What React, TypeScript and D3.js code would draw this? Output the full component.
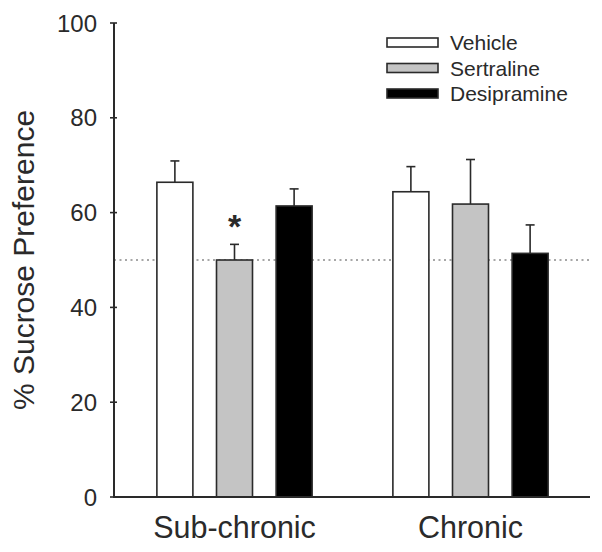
import React from "react";
import * as d3 from "d3";

const groups = ["Sub-chronic", "Chronic"];
const treatments = ["Vehicle", "Sertraline", "Desipramine"];
const means = [
  [66.4, 50.0, 61.4],
  [64.4, 61.8, 51.4],
];
const errors = [
  [4.5, 3.3, 3.6],
  [5.3, 9.4, 6.0],
];
const significant = [
  [false, true, false],
  [false, false, false],
];
const yTicks = [0, 20, 40, 60, 80, 100];
const referenceLine = 50;
const fills = ["#ffffff", "#c4c4c4", "#000000"];

const W = 602;
const H = 552;
const FONT = "'Liberation Sans', Arial, sans-serif";
const INK = "#2a2a2a";

export default function App() {
  const x0 = d3.scaleBand<string>().domain(groups).range([116.5, 588.5]).paddingInner(0).paddingOuter(0);
  const y = d3.scaleLinear().domain([0, 100]).range([497, 23]);
  const barW = 36;
  const inner = d3
    .scaleBand<string>()
    .domain(treatments)
    .range([0, 155])
    .paddingInner(0.4)
    .paddingOuter(0);

  return (
    <svg width={W} height={H} style={{ display: "block", position: "absolute", left: 0, top: 0 }}>
      <rect width={W} height={H} fill="#fff" />
      {/* reference line */}
      <line
        x1={114}
        x2={590}
        y1={y(referenceLine)}
        y2={y(referenceLine)}
        stroke="#8a8a8a"
        strokeWidth={1.5}
        strokeDasharray="2,3.5"
      />
      {groups.map((g, gi) => {
        const gc = (x0(g) as number) + x0.bandwidth() / 2;
        const start = gc - 155 / 2;
        return (
          <g key={g}>
            {treatments.map((t, ti) => {
              const bx = start + (inner(t) as number) + inner.bandwidth() / 2;
              const m = means[gi][ti];
              const e = errors[gi][ti];
              const top = y(m);
              const etop = y(m + e);
              return (
                <g key={t}>
                  <line x1={bx} x2={bx} y1={top} y2={etop} stroke={INK} strokeWidth={1.6} />
                  <line x1={bx - 4.5} x2={bx + 4.5} y1={etop} y2={etop} stroke={INK} strokeWidth={1.6} />
                  <rect
                    x={bx - barW / 2}
                    y={top}
                    width={barW}
                    height={y(0) - top}
                    fill={fills[ti]}
                    stroke={INK}
                    strokeWidth={1.6}
                  />
                  {significant[gi][ti] && (
                    <text
                      x={bx}
                      y={etop - 6}
                      textAnchor="middle"
                      fontFamily={FONT}
                      fontSize={34}
                      fontWeight="bold"
                      fill={INK}
                    >
                      *
                    </text>
                  )}
                </g>
              );
            })}
            <text
              x={gc}
              y={538}
              textAnchor="middle"
              fontFamily={FONT}
              fontSize={30.5}
              fill={INK}
            >
              {g}
            </text>
          </g>
        );
      })}
      {/* axes */}
      <line x1={114} x2={114} y1={y(100)} y2={y(0)} stroke={INK} strokeWidth={2} />
      <line x1={113} x2={590} y1={y(0)} y2={y(0)} stroke={INK} strokeWidth={2} />
      {yTicks.map((t) => (
        <g key={t}>
          <line x1={110} x2={117} y1={y(t)} y2={y(t)} stroke={INK} strokeWidth={1.6} />
          <text
            x={97}
            y={y(t)}
            dy="0.36em"
            textAnchor="end"
            fontFamily={FONT}
            fontSize={24}
            fill={INK}
          >
            {t}
          </text>
        </g>
      ))}
      <text
        transform={`translate(34, ${(y(0) + y(100)) / 2}) rotate(-90)`}
        textAnchor="middle"
        fontFamily={FONT}
        fontSize={30}
        fill={INK}
      >
        % Sucrose Preference
      </text>
      {/* legend */}
      {treatments.map((t, i) => {
        const cy = 42.5 + i * 25.5;
        return (
          <g key={t}>
            <rect x={387} y={cy - 4.5} width={51} height={9} fill={fills[i]} stroke={INK} strokeWidth={1.6} />
            <text x={450} y={cy} dy="0.36em" fontFamily={FONT} fontSize={21} fill={INK}>
              {t}
            </text>
          </g>
        );
      })}
    </svg>
  );
}
